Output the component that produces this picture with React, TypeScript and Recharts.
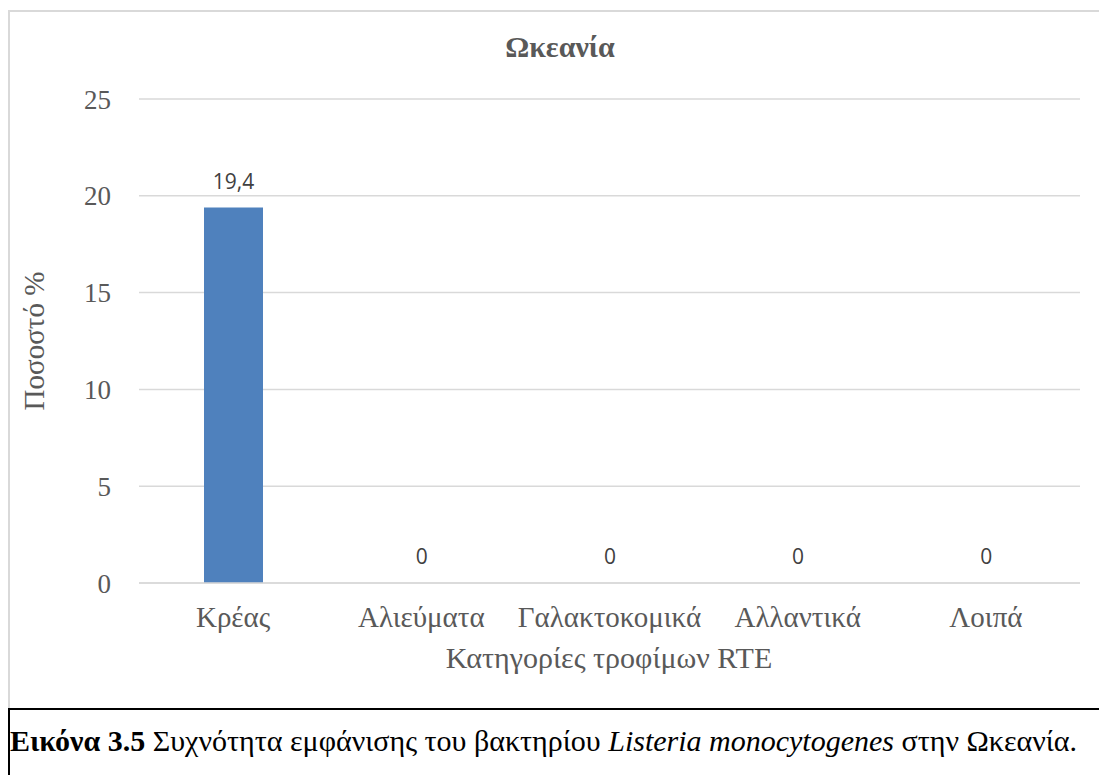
import {
  BarChart,
  Bar,
  Cell,
  XAxis,
  YAxis,
  CartesianGrid,
  LabelList,
} from "recharts";

const categories = [
  "Κρέας",
  "Αλιεύματα",
  "Γαλακτοκομικά",
  "Αλλαντικά",
  "Λοιπά",
];
const percentages = [19.4, 0, 0, 0, 0];
const yTicks = [0, 5, 10, 15, 20, 25];

const data = categories.map((name, i) => ({
  name,
  value: percentages[i],
}));

const SERIF = "Liberation Serif, DejaVu Serif, serif";
const GREY = "#595959";
const BAR_BLUE = "#4f81bd";

export default function App() {
  return (
    <div
      style={{
        position: "fixed",
        left: 0,
        top: 0,
        width: 1099,
        height: 775,
        overflow: "hidden",
        background: "#fff",
      }}
    >
      {/* chart frame */}
      <div
        style={{
          position: "absolute",
          left: 8,
          top: 10,
          width: 1100,
          height: 720,
          border: "2px solid #d9d9d9",
        }}
      />

      <BarChart
        width={1099}
        height={705}
        data={data}
        margin={{ top: 99, right: 19, left: 0, bottom: 0 }}
        style={{ position: "absolute", left: 0, top: 0 }}
      >
        <CartesianGrid
          vertical={false}
          stroke="#d9d9d9"
          strokeWidth={1.5}
        />
        <XAxis
          dataKey="name"
          height={122}
          axisLine={{ stroke: "#d9d9d9", strokeWidth: 1.5 }}
          tickLine={false}
          tickMargin={17}
          interval={0}
          tick={{ fill: GREY, fontSize: 29, fontFamily: SERIF }}
        />
        <YAxis
          width={139}
          domain={[0, 25]}
          ticks={yTicks}
          axisLine={false}
          tickLine={false}
          tickMargin={22}
          tick={{ fill: GREY, fontSize: 27, fontFamily: SERIF }}
        />
        <Bar
          dataKey="value"
          barSize={59}
          minPointSize={(v: number) => (v === 0 ? 1 : 0)}
          isAnimationActive={false}
        >
          {/* zero bars stay invisible, they only carry the "0" label */}
          {data.map((d, i) => (
            <Cell
              key={i}
              fill={d.value === 0 ? "transparent" : BAR_BLUE}
            />
          ))}
          <LabelList
            dataKey="value"
            position="top"
            offset={18}
            formatter={(v: number) => String(v).replace(".", ",")}
            style={{
              fill: "#404040",
              fontSize: 21,
              fontFamily: "Open Sans, sans-serif",
            }}
          />
        </Bar>
      </BarChart>

      {/* chart title */}
      <div
        style={{
          position: "absolute",
          left: 360,
          width: 400,
          top: 30,
          textAlign: "center",
          fontFamily: SERIF,
          fontWeight: "bold",
          fontSize: 30,
          color: GREY,
        }}
      >
        Ωκεανία
      </div>

      {/* y axis title */}
      <div
        style={{
          position: "absolute",
          left: 34,
          top: 341,
          transform: "translate(-50%, -50%) rotate(-90deg)",
          whiteSpace: "nowrap",
          fontFamily: SERIF,
          fontSize: 29,
          color: GREY,
        }}
      >
        Ποσοστό %
      </div>

      {/* x axis title */}
      <div
        style={{
          position: "absolute",
          left: 409,
          width: 400,
          top: 641,
          textAlign: "center",
          fontFamily: SERIF,
          fontSize: 30,
          color: GREY,
        }}
      >
        Κατηγορίες τροφίμων RTE
      </div>

      {/* caption */}
      <div
        style={{
          position: "absolute",
          left: 8,
          top: 708,
          width: 1100,
          height: 80,
          borderTop: "2px solid #000",
          borderLeft: "2px solid #000",
          background: "#fff",
        }}
      >
        <div
          style={{
            position: "absolute",
            left: 0,
            top: 14,
            fontFamily: SERIF,
            fontSize: 30,
            color: "#000",
            whiteSpace: "nowrap",
          }}
        >
          <b>Εικόνα 3.5</b> Συχνότητα εμφάνισης του βακτηρίου{" "}
          <i>Listeria monocytogenes</i> στην Ωκεανία.
        </div>
      </div>
    </div>
  );
}
